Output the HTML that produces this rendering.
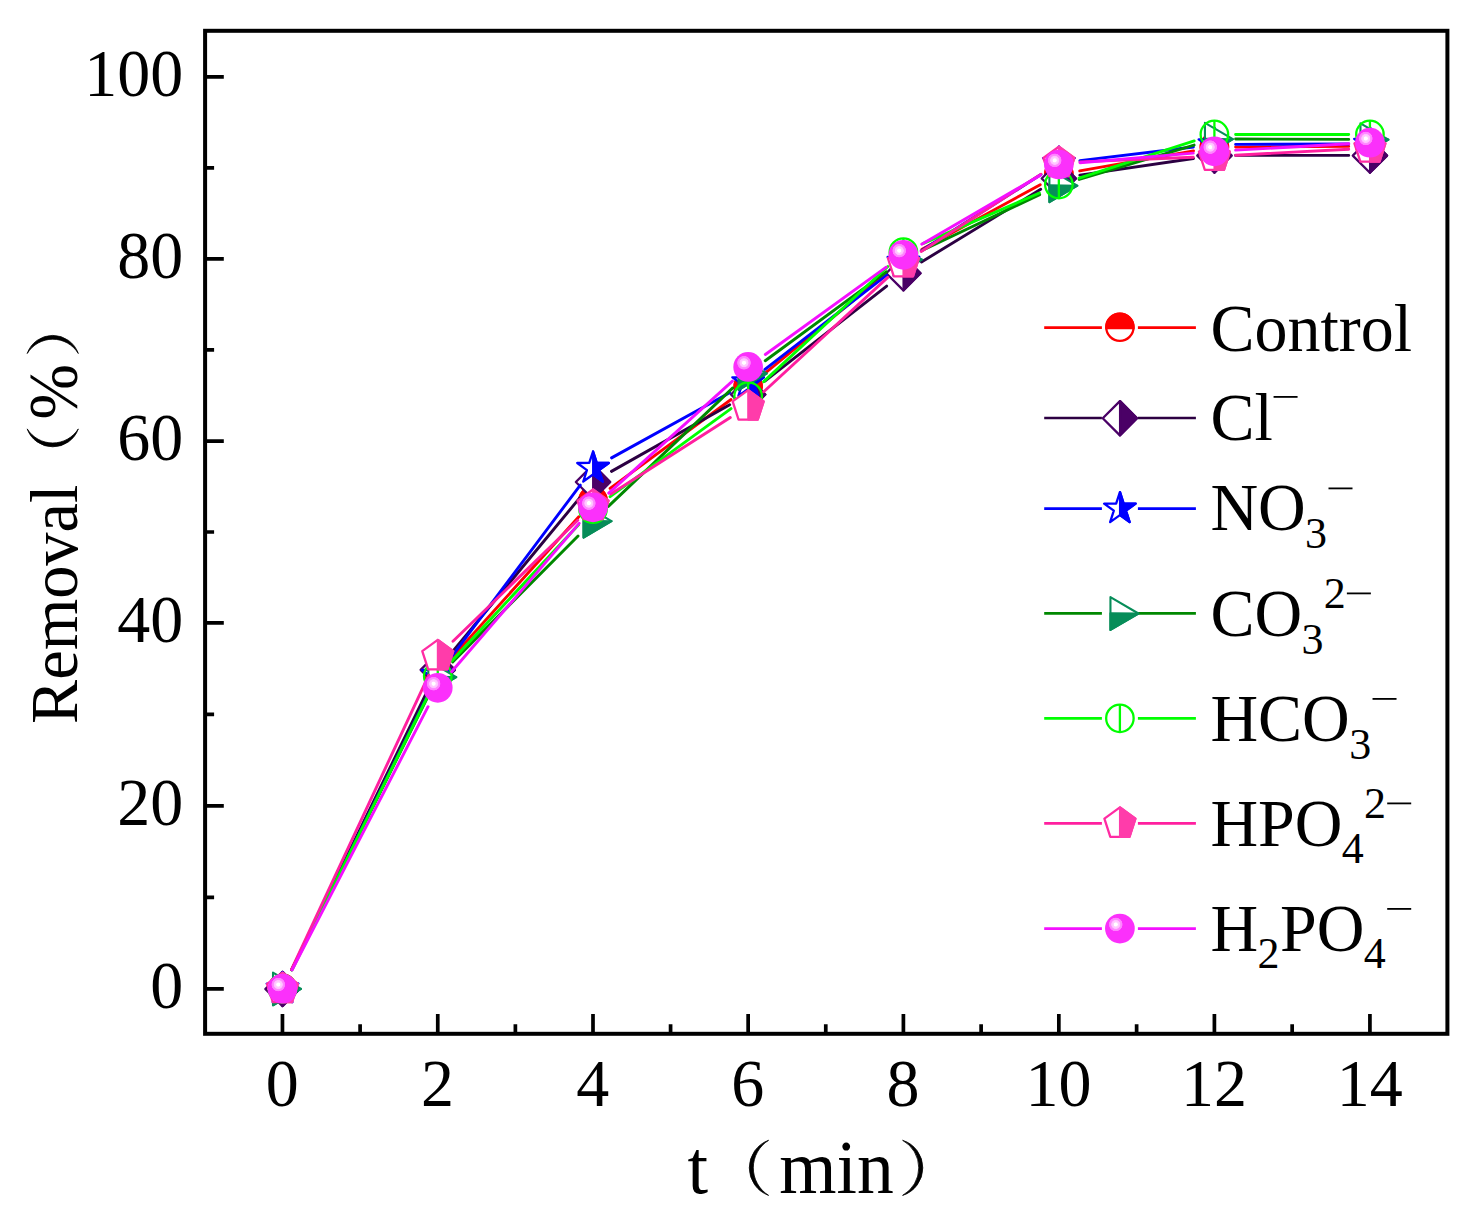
<!DOCTYPE html>
<html lang="en">
<head>
<meta charset="utf-8">
<title>Removal vs t</title>
<style>
html,body{margin:0;padding:0;background:#ffffff;}
body{width:1481px;height:1222px;overflow:hidden;font-family:"Liberation Serif",serif;}
svg{display:block;}
</style>
</head>
<body>
<svg width="1481" height="1222" viewBox="0 0 1481 1222">
<defs><radialGradient id="sph" cx="0.36" cy="0.36" r="0.64" fx="0.36" fy="0.36"><stop offset="0" stop-color="#ffffff"/><stop offset="0.09" stop-color="#ffffff"/><stop offset="0.12" stop-color="#ffd0ff"/><stop offset="0.22" stop-color="#ffc0ff"/><stop offset="0.25" stop-color="#ff8cff"/><stop offset="0.34" stop-color="#ff80ff"/><stop offset="0.37" stop-color="#fb30fb"/><stop offset="1" stop-color="#fb30fb"/></radialGradient></defs>
<rect x="0" y="0" width="1481" height="1222" fill="#ffffff"/>
<path d="M291.82,969.68L428.40,692.27M451.95,657.50L578.81,516.69M610.09,488.39L731.06,399.53M764.53,373.51L887.02,272.80M922.01,249.19L1040.23,184.70M1079.72,170.88L1193.52,150.87M1235.60,147.08L1348.72,146.41" fill="none" stroke="#ff0000" stroke-width="2.9" stroke-linecap="round"/>
<circle cx="282.46" cy="988.35" r="13.65" fill="#fff" stroke="#ff0000" stroke-width="2.3"/><path d="M268.83,989.15 A13.65,13.65 0 1,1 296.09,989.15 Z" fill="#ff0000" stroke="#ff0000" stroke-width="2.3"/>
<circle cx="437.76" cy="672.90" r="13.65" fill="#fff" stroke="#ff0000" stroke-width="2.3"/><path d="M424.13,673.70 A13.65,13.65 0 1,1 451.39,673.70 Z" fill="#ff0000" stroke="#ff0000" stroke-width="2.3"/>
<circle cx="593.00" cy="500.59" r="13.65" fill="#fff" stroke="#ff0000" stroke-width="2.3"/><path d="M579.37,501.39 A13.65,13.65 0 1,1 606.63,501.39 Z" fill="#ff0000" stroke="#ff0000" stroke-width="2.3"/>
<circle cx="748.15" cy="386.63" r="13.65" fill="#fff" stroke="#ff0000" stroke-width="2.3"/><path d="M734.52,387.43 A13.65,13.65 0 1,1 761.78,387.43 Z" fill="#ff0000" stroke="#ff0000" stroke-width="2.3"/>
<circle cx="903.40" cy="258.99" r="13.65" fill="#fff" stroke="#ff0000" stroke-width="2.3"/><path d="M889.77,259.79 A13.65,13.65 0 1,1 917.03,259.79 Z" fill="#ff0000" stroke="#ff0000" stroke-width="2.3"/>
<circle cx="1058.84" cy="174.20" r="13.65" fill="#fff" stroke="#ff0000" stroke-width="2.3"/><path d="M1045.21,175.00 A13.65,13.65 0 1,1 1072.47,175.00 Z" fill="#ff0000" stroke="#ff0000" stroke-width="2.3"/>
<circle cx="1214.40" cy="146.85" r="13.65" fill="#fff" stroke="#ff0000" stroke-width="2.3"/><path d="M1200.77,147.65 A13.65,13.65 0 1,1 1228.03,147.65 Z" fill="#ff0000" stroke="#ff0000" stroke-width="2.3"/>
<circle cx="1369.92" cy="145.94" r="13.65" fill="#fff" stroke="#ff0000" stroke-width="2.3"/><path d="M1356.29,146.74 A13.65,13.65 0 1,1 1383.55,146.74 Z" fill="#ff0000" stroke="#ff0000" stroke-width="2.3"/>
<path d="M291.74,969.64L428.48,688.67M451.27,653.26L579.49,498.14M611.46,471.38L729.69,404.69M764.86,381.22L886.69,286.06M921.50,261.98L1040.74,189.24M1079.82,175.13L1193.42,158.48M1235.60,155.41L1348.72,155.41" fill="none" stroke="#2c0042" stroke-width="2.9" stroke-linecap="round"/>
<polygon points="282.46,971.80 299.61,988.95 282.46,1006.10 265.31,988.95" fill="#fff" stroke="#4a0066" stroke-width="2.3" stroke-linejoin="round"/><polygon points="282.66,971.80 282.66,971.80 299.61,988.95 282.46,1006.10 282.66,1006.10" fill="#4a0066" stroke="#4a0066" stroke-width="2.3" stroke-linejoin="round"/>
<polygon points="437.76,652.71 454.91,669.86 437.76,687.00 420.61,669.86" fill="#fff" stroke="#4a0066" stroke-width="2.3" stroke-linejoin="round"/><polygon points="437.96,652.71 437.96,652.71 454.91,669.86 437.76,687.00 437.96,687.00" fill="#4a0066" stroke="#4a0066" stroke-width="2.3" stroke-linejoin="round"/>
<polygon points="593.00,464.89 610.15,482.04 593.00,499.19 575.85,482.04" fill="#fff" stroke="#4a0066" stroke-width="2.3" stroke-linejoin="round"/><polygon points="593.20,464.89 593.20,464.89 610.15,482.04 593.00,499.19 593.20,499.19" fill="#4a0066" stroke="#4a0066" stroke-width="2.3" stroke-linejoin="round"/>
<polygon points="748.15,377.37 765.30,394.52 748.15,411.67 731.00,394.52" fill="#fff" stroke="#4a0066" stroke-width="2.3" stroke-linejoin="round"/><polygon points="748.35,377.37 748.35,377.37 765.30,394.52 748.15,411.67 748.35,411.67" fill="#4a0066" stroke="#4a0066" stroke-width="2.3" stroke-linejoin="round"/>
<polygon points="903.40,256.12 920.55,273.27 903.40,290.42 886.25,273.27" fill="#fff" stroke="#4a0066" stroke-width="2.3" stroke-linejoin="round"/><polygon points="903.60,256.12 903.60,256.12 920.55,273.27 903.40,290.42 903.60,290.42" fill="#4a0066" stroke="#4a0066" stroke-width="2.3" stroke-linejoin="round"/>
<polygon points="1058.84,161.30 1075.99,178.45 1058.84,195.60 1041.69,178.45" fill="#fff" stroke="#4a0066" stroke-width="2.3" stroke-linejoin="round"/><polygon points="1059.04,161.30 1059.04,161.30 1075.99,178.45 1058.84,195.60 1059.04,195.60" fill="#4a0066" stroke="#4a0066" stroke-width="2.3" stroke-linejoin="round"/>
<polygon points="1214.40,138.51 1231.55,155.66 1214.40,172.81 1197.25,155.66" fill="#fff" stroke="#4a0066" stroke-width="2.3" stroke-linejoin="round"/><polygon points="1214.60,138.51 1214.60,138.51 1231.55,155.66 1214.40,172.81 1214.60,172.81" fill="#4a0066" stroke="#4a0066" stroke-width="2.3" stroke-linejoin="round"/>
<polygon points="1369.92,138.51 1387.07,155.66 1369.92,172.81 1352.77,155.66" fill="#fff" stroke="#4a0066" stroke-width="2.3" stroke-linejoin="round"/><polygon points="1370.12,138.51 1370.12,138.51 1387.07,155.66 1369.92,172.81 1370.12,172.81" fill="#4a0066" stroke="#4a0066" stroke-width="2.3" stroke-linejoin="round"/>
<path d="M291.87,969.70L428.35,694.07M450.48,658.12L580.28,485.08M611.56,457.87L729.59,392.67M764.91,369.43L886.64,275.06M921.29,250.69L1040.95,174.54M1079.89,160.63L1193.35,146.99M1235.60,144.40L1348.72,144.07" fill="none" stroke="#0000ff" stroke-width="2.9" stroke-linecap="round"/>
<polygon points="282.46,972.10 286.22,983.53 298.25,983.57 288.54,990.67 292.22,1002.13 282.46,995.09 272.70,1002.13 276.38,990.67 266.67,983.57 278.70,983.53" fill="#fff" stroke="#0000ff" stroke-width="2.3" stroke-linejoin="round"/><polygon points="282.66,972.10 286.22,983.53 298.25,983.57 288.54,990.67 292.22,1002.13 282.66,995.09" fill="#0000ff" stroke="#0000ff" stroke-width="2.3" stroke-linejoin="round"/>
<polygon points="437.76,658.48 441.52,669.90 453.55,669.95 443.84,677.05 447.52,688.50 437.76,681.47 428.00,688.50 431.68,677.05 421.97,669.95 434.00,669.90" fill="#fff" stroke="#0000ff" stroke-width="2.3" stroke-linejoin="round"/><polygon points="437.96,658.48 441.52,669.90 453.55,669.95 443.84,677.05 447.52,688.50 437.96,681.47" fill="#0000ff" stroke="#0000ff" stroke-width="2.3" stroke-linejoin="round"/>
<polygon points="593.00,451.52 596.76,462.95 608.79,462.99 599.08,470.09 602.76,481.55 593.00,474.51 583.24,481.55 586.92,470.09 577.21,462.99 589.24,462.95" fill="#fff" stroke="#0000ff" stroke-width="2.3" stroke-linejoin="round"/><polygon points="593.20,451.52 596.76,462.95 608.79,462.99 599.08,470.09 602.76,481.55 593.20,474.51" fill="#0000ff" stroke="#0000ff" stroke-width="2.3" stroke-linejoin="round"/>
<polygon points="748.15,365.82 751.91,377.25 763.94,377.29 754.23,384.39 757.91,395.85 748.15,388.81 738.39,395.85 742.07,384.39 732.36,377.29 744.39,377.25" fill="#fff" stroke="#0000ff" stroke-width="2.3" stroke-linejoin="round"/><polygon points="748.35,365.82 751.91,377.25 763.94,377.29 754.23,384.39 757.91,395.85 748.35,388.81" fill="#0000ff" stroke="#0000ff" stroke-width="2.3" stroke-linejoin="round"/>
<polygon points="903.40,245.48 907.16,256.90 919.19,256.95 909.48,264.05 913.16,275.50 903.40,268.47 893.64,275.50 897.32,264.05 887.61,256.95 899.64,256.90" fill="#fff" stroke="#0000ff" stroke-width="2.3" stroke-linejoin="round"/><polygon points="903.60,245.48 907.16,256.90 919.19,256.95 909.48,264.05 913.16,275.50 903.60,268.47" fill="#0000ff" stroke="#0000ff" stroke-width="2.3" stroke-linejoin="round"/>
<polygon points="1058.84,146.56 1062.60,157.99 1074.63,158.03 1064.92,165.13 1068.60,176.59 1058.84,169.55 1049.08,176.59 1052.76,165.13 1043.05,158.03 1055.08,157.99" fill="#fff" stroke="#0000ff" stroke-width="2.3" stroke-linejoin="round"/><polygon points="1059.04,146.56 1062.60,157.99 1074.63,158.03 1064.92,165.13 1068.60,176.59 1059.04,169.55" fill="#0000ff" stroke="#0000ff" stroke-width="2.3" stroke-linejoin="round"/>
<polygon points="1214.40,127.87 1218.16,139.30 1230.19,139.34 1220.48,146.44 1224.16,157.90 1214.40,150.86 1204.64,157.90 1208.32,146.44 1198.61,139.34 1210.64,139.30" fill="#fff" stroke="#0000ff" stroke-width="2.3" stroke-linejoin="round"/><polygon points="1214.60,127.87 1218.16,139.30 1230.19,139.34 1220.48,146.44 1224.16,157.90 1214.60,150.86" fill="#0000ff" stroke="#0000ff" stroke-width="2.3" stroke-linejoin="round"/>
<polygon points="1369.92,127.41 1373.68,138.84 1385.71,138.88 1376.00,145.98 1379.68,157.44 1369.92,150.40 1360.16,157.44 1363.84,145.98 1354.13,138.88 1366.16,138.84" fill="#fff" stroke="#0000ff" stroke-width="2.3" stroke-linejoin="round"/><polygon points="1370.12,127.41 1373.68,138.84 1385.71,138.88 1376.00,145.98 1379.68,157.44 1370.12,150.40" fill="#0000ff" stroke="#0000ff" stroke-width="2.3" stroke-linejoin="round"/>
<path d="M291.91,969.72L428.31,695.88M452.72,661.88L578.04,536.02M608.36,506.38L732.79,387.92M765.24,360.76L886.31,271.88M922.55,250.24L1039.69,194.59M1079.15,179.42L1194.09,145.07M1235.60,139.06L1348.72,139.39" fill="none" stroke="#008800" stroke-width="2.9" stroke-linecap="round"/>
<polygon points="273.01,972.55 300.96,988.90 273.01,1005.25" fill="#fff" stroke="#078d59" stroke-width="2.1" stroke-linejoin="round"/><polygon points="273.01,988.60 300.96,988.90 273.01,1005.25" fill="#078d59" stroke="#078d59" stroke-width="2.1" stroke-linejoin="round"/>
<polygon points="428.31,660.75 456.26,677.10 428.31,693.45" fill="#fff" stroke="#078d59" stroke-width="2.1" stroke-linejoin="round"/><polygon points="428.31,676.80 456.26,677.10 428.31,693.45" fill="#078d59" stroke="#078d59" stroke-width="2.1" stroke-linejoin="round"/>
<polygon points="583.55,504.85 611.50,521.20 583.55,537.55" fill="#fff" stroke="#078d59" stroke-width="2.1" stroke-linejoin="round"/><polygon points="583.55,520.90 611.50,521.20 583.55,537.55" fill="#078d59" stroke="#078d59" stroke-width="2.1" stroke-linejoin="round"/>
<polygon points="738.70,357.15 766.65,373.50 738.70,389.85" fill="#fff" stroke="#078d59" stroke-width="2.1" stroke-linejoin="round"/><polygon points="738.70,373.20 766.65,373.50 738.70,389.85" fill="#078d59" stroke="#078d59" stroke-width="2.1" stroke-linejoin="round"/>
<polygon points="893.95,243.19 921.90,259.54 893.95,275.89" fill="#fff" stroke="#078d59" stroke-width="2.1" stroke-linejoin="round"/><polygon points="893.95,259.24 921.90,259.54 893.95,275.89" fill="#078d59" stroke="#078d59" stroke-width="2.1" stroke-linejoin="round"/>
<polygon points="1049.39,169.34 1077.34,185.69 1049.39,202.04" fill="#fff" stroke="#078d59" stroke-width="2.1" stroke-linejoin="round"/><polygon points="1049.39,185.39 1077.34,185.69 1049.39,202.04" fill="#078d59" stroke="#078d59" stroke-width="2.1" stroke-linejoin="round"/>
<polygon points="1204.95,122.85 1232.90,139.20 1204.95,155.54" fill="#fff" stroke="#078d59" stroke-width="2.1" stroke-linejoin="round"/><polygon points="1204.95,138.90 1232.90,139.20 1204.95,155.54" fill="#078d59" stroke="#078d59" stroke-width="2.1" stroke-linejoin="round"/>
<polygon points="1360.47,123.30 1388.42,139.65 1360.47,156.00" fill="#fff" stroke="#078d59" stroke-width="2.1" stroke-linejoin="round"/><polygon points="1360.47,139.35 1388.42,139.65 1360.47,156.00" fill="#078d59" stroke="#078d59" stroke-width="2.1" stroke-linejoin="round"/>
<path d="M291.89,969.71L428.33,694.97M452.20,660.47L578.56,524.67M610.13,496.66L731.02,408.58M763.69,381.68L887.86,266.47M922.85,243.61L1039.39,193.02M1079.02,178.08L1194.22,140.94M1235.60,134.44L1348.72,134.44" fill="none" stroke="#00ff00" stroke-width="2.9" stroke-linecap="round"/>
<circle cx="282.46" cy="988.70" r="13.75" fill="none" stroke="#00ff00" stroke-width="2.3"/><line x1="282.46" y1="974.95" x2="282.46" y2="1002.45" stroke="#00ff00" stroke-width="2.3"/>
<circle cx="437.76" cy="675.99" r="13.75" fill="none" stroke="#00ff00" stroke-width="2.3"/><line x1="437.76" y1="662.24" x2="437.76" y2="689.74" stroke="#00ff00" stroke-width="2.3"/>
<circle cx="593.00" cy="509.15" r="13.75" fill="none" stroke="#00ff00" stroke-width="2.3"/><line x1="593.00" y1="495.40" x2="593.00" y2="522.90" stroke="#00ff00" stroke-width="2.3"/>
<circle cx="748.15" cy="396.10" r="13.75" fill="none" stroke="#00ff00" stroke-width="2.3"/><line x1="748.15" y1="382.35" x2="748.15" y2="409.85" stroke="#00ff00" stroke-width="2.3"/>
<circle cx="903.40" cy="252.05" r="13.75" fill="none" stroke="#00ff00" stroke-width="2.3"/><line x1="903.40" y1="238.30" x2="903.40" y2="265.80" stroke="#00ff00" stroke-width="2.3"/>
<circle cx="1058.84" cy="184.58" r="13.75" fill="none" stroke="#00ff00" stroke-width="2.3"/><line x1="1058.84" y1="170.83" x2="1058.84" y2="198.33" stroke="#00ff00" stroke-width="2.3"/>
<circle cx="1214.40" cy="134.44" r="13.75" fill="none" stroke="#00ff00" stroke-width="2.3"/><line x1="1214.40" y1="120.69" x2="1214.40" y2="148.19" stroke="#00ff00" stroke-width="2.3"/>
<circle cx="1369.92" cy="134.44" r="13.75" fill="none" stroke="#00ff00" stroke-width="2.3"/><line x1="1369.92" y1="120.69" x2="1369.92" y2="148.19" stroke="#00ff00" stroke-width="2.3"/>
<path d="M291.43,969.49L428.79,675.14M452.98,641.18L577.78,520.25M610.85,494.06L730.30,417.56M763.74,391.75L887.81,277.36M921.21,251.49L1041.03,174.19M1080.02,161.83L1193.22,157.19M1235.57,155.20L1348.75,149.23" fill="none" stroke="#ff1f9f" stroke-width="2.9" stroke-linecap="round"/>
<polygon points="282.46,972.70 297.96,983.96 292.04,1002.19 272.88,1002.19 266.96,983.96" fill="#fff" stroke="#ff2ca3" stroke-width="2.3" stroke-linejoin="round"/><polygon points="282.66,972.70 297.96,983.96 292.04,1002.19 282.66,1002.19" fill="#ff3caa" stroke="#ff3caa" stroke-width="2.3" stroke-linejoin="round"/>
<polygon points="437.76,639.93 453.26,651.19 447.34,669.42 428.18,669.42 422.26,651.19" fill="#fff" stroke="#ff2ca3" stroke-width="2.3" stroke-linejoin="round"/><polygon points="437.96,639.93 453.26,651.19 447.34,669.42 437.96,669.42" fill="#ff3caa" stroke="#ff3caa" stroke-width="2.3" stroke-linejoin="round"/>
<polygon points="593.00,489.50 608.50,500.76 602.58,518.99 583.42,518.99 577.50,500.76" fill="#fff" stroke="#ff2ca3" stroke-width="2.3" stroke-linejoin="round"/><polygon points="593.20,489.50 608.50,500.76 602.58,518.99 593.20,518.99" fill="#ff3caa" stroke="#ff3caa" stroke-width="2.3" stroke-linejoin="round"/>
<polygon points="748.15,390.12 763.65,401.39 757.73,419.61 738.57,419.61 732.65,401.39" fill="#fff" stroke="#ff2ca3" stroke-width="2.3" stroke-linejoin="round"/><polygon points="748.35,390.12 763.65,401.39 757.73,419.61 748.35,419.61" fill="#ff3caa" stroke="#ff3caa" stroke-width="2.3" stroke-linejoin="round"/>
<polygon points="903.40,246.99 918.90,258.25 912.98,276.47 893.82,276.47 887.90,258.25" fill="#fff" stroke="#ff2ca3" stroke-width="2.3" stroke-linejoin="round"/><polygon points="903.60,246.99 918.90,258.25 912.98,276.47 903.60,276.47" fill="#ff3caa" stroke="#ff3caa" stroke-width="2.3" stroke-linejoin="round"/>
<polygon points="1058.84,146.70 1074.34,157.96 1068.42,176.19 1049.26,176.19 1043.34,157.96" fill="#fff" stroke="#ff2ca3" stroke-width="2.3" stroke-linejoin="round"/><polygon points="1059.04,146.70 1074.34,157.96 1068.42,176.19 1059.04,176.19" fill="#ff3caa" stroke="#ff3caa" stroke-width="2.3" stroke-linejoin="round"/>
<polygon points="1214.40,140.32 1229.90,151.58 1223.98,169.80 1204.82,169.80 1198.90,151.58" fill="#fff" stroke="#ff2ca3" stroke-width="2.3" stroke-linejoin="round"/><polygon points="1214.60,140.32 1229.90,151.58 1223.98,169.80 1214.60,169.80" fill="#ff3caa" stroke="#ff3caa" stroke-width="2.3" stroke-linejoin="round"/>
<polygon points="1369.92,132.11 1385.42,143.38 1379.50,161.60 1360.34,161.60 1354.42,143.38" fill="#fff" stroke="#ff2ca3" stroke-width="2.3" stroke-linejoin="round"/><polygon points="1370.12,132.11 1385.42,143.38 1379.50,161.60 1370.12,161.60" fill="#ff3caa" stroke="#ff3caa" stroke-width="2.3" stroke-linejoin="round"/>
<path d="M292.18,969.86L428.04,706.68M451.58,671.77L579.18,523.40M608.72,493.10L732.43,381.15M765.34,354.51L886.21,267.19M921.73,244.14L1040.51,175.17M1079.96,162.73L1193.28,153.10M1235.57,150.12L1348.75,143.82" fill="none" stroke="#f410ff" stroke-width="2.9" stroke-linecap="round"/>
<circle cx="282.46" cy="988.70" r="14.85" fill="url(#sph)"/>
<circle cx="437.76" cy="687.84" r="14.85" fill="url(#sph)"/>
<circle cx="593.00" cy="507.32" r="14.85" fill="url(#sph)"/>
<circle cx="748.15" cy="366.92" r="14.85" fill="url(#sph)"/>
<circle cx="903.40" cy="254.78" r="14.85" fill="url(#sph)"/>
<circle cx="1058.84" cy="164.52" r="14.85" fill="url(#sph)"/>
<circle cx="1214.40" cy="151.30" r="14.85" fill="url(#sph)"/>
<circle cx="1369.92" cy="142.64" r="14.85" fill="url(#sph)"/>
<path d="M205.10,988.81H223.80M205.10,897.37H214.10M205.10,805.92H223.80M205.10,714.43H214.10M205.10,622.95H223.80M205.10,532.00H214.10M205.10,441.06H223.80M205.10,349.97H214.10M205.10,258.87H223.80M205.10,167.83H214.10M205.10,76.79H223.80M282.46,1033.80V1014.00M360.11,1033.80V1024.20M437.76,1033.80V1014.00M515.38,1033.80V1024.20M593.00,1033.80V1014.00M670.58,1033.80V1024.20M748.15,1033.80V1014.00M825.77,1033.80V1024.20M903.40,1033.80V1014.00M981.12,1033.80V1024.20M1058.84,1033.80V1014.00M1136.62,1033.80V1024.20M1214.40,1033.80V1014.00M1292.16,1033.80V1024.20M1369.92,1033.80V1014.00" fill="none" stroke="#000" stroke-width="3.7"/>
<rect x="205.10" y="30.80" width="1242.30" height="1003.00" fill="none" stroke="#000" stroke-width="4.0"/>
<text transform="translate(183.3,1007.81) scale(1,1.035)" font-family="Liberation Serif, serif" font-size="66" text-anchor="end" fill="#000">0</text>
<text transform="translate(183.3,824.92) scale(1,1.035)" font-family="Liberation Serif, serif" font-size="66" text-anchor="end" fill="#000">20</text>
<text transform="translate(183.3,641.95) scale(1,1.035)" font-family="Liberation Serif, serif" font-size="66" text-anchor="end" fill="#000">40</text>
<text transform="translate(183.3,460.06) scale(1,1.035)" font-family="Liberation Serif, serif" font-size="66" text-anchor="end" fill="#000">60</text>
<text transform="translate(183.3,277.87) scale(1,1.035)" font-family="Liberation Serif, serif" font-size="66" text-anchor="end" fill="#000">80</text>
<text transform="translate(183.3,95.79) scale(1,1.035)" font-family="Liberation Serif, serif" font-size="66" text-anchor="end" fill="#000">100</text>
<text transform="translate(282.16,1106.0) scale(1,1.03)" font-family="Liberation Serif, serif" font-size="66" text-anchor="middle" fill="#000">0</text>
<text transform="translate(437.46,1106.0) scale(1,1.03)" font-family="Liberation Serif, serif" font-size="66" text-anchor="middle" fill="#000">2</text>
<text transform="translate(592.70,1106.0) scale(1,1.03)" font-family="Liberation Serif, serif" font-size="66" text-anchor="middle" fill="#000">4</text>
<text transform="translate(747.85,1106.0) scale(1,1.03)" font-family="Liberation Serif, serif" font-size="66" text-anchor="middle" fill="#000">6</text>
<text transform="translate(903.10,1106.0) scale(1,1.03)" font-family="Liberation Serif, serif" font-size="66" text-anchor="middle" fill="#000">8</text>
<text transform="translate(1058.54,1106.0) scale(1,1.03)" font-family="Liberation Serif, serif" font-size="66" text-anchor="middle" fill="#000">10</text>
<text transform="translate(1214.10,1106.0) scale(1,1.03)" font-family="Liberation Serif, serif" font-size="66" text-anchor="middle" fill="#000">12</text>
<text transform="translate(1369.62,1106.0) scale(1,1.03)" font-family="Liberation Serif, serif" font-size="66" text-anchor="middle" fill="#000">14</text>
<text transform="translate(687.5,1193.3) scale(1,1.02)" font-family="Liberation Serif, serif" font-size="74" fill="#000">t</text>
<path d="M768.60,1140.30 A29.31,29.31 0 0,0 768.60,1195.40 A32.45,32.45 0 0,1 768.60,1140.30 Z" fill="#000" stroke="#000" stroke-width="0.8" stroke-linejoin="round"/>
<text transform="translate(779.3,1193.3) scale(0.995,1.02)" font-family="Liberation Serif, serif" font-size="74" fill="#000">min</text>
<path d="M902.60,1140.30 A28.89,28.89 0 0,1 902.60,1195.40 A31.53,31.53 0 0,0 902.60,1140.30 Z" fill="#000" stroke="#000" stroke-width="0.8" stroke-linejoin="round"/>
<g transform="translate(76.9,724.0) rotate(-90)">
<text transform="scale(0.997,1.015)" x="0" y="0" font-family="Liberation Serif, serif" font-size="66.5" fill="#000">Removal</text>
<path d="M295.10,-49.70 A27.18,27.18 0 0,0 295.10,1.40 A30.20,30.20 0 0,1 295.10,-49.70 Z" fill="#000" stroke="#000" stroke-width="0.8" stroke-linejoin="round"/>
<text transform="translate(304.4,0) scale(1,1.04)" font-family="Liberation Serif, serif" font-size="66.5" fill="#000">%</text>
<path d="M370.50,-49.70 A27.08,27.08 0 0,1 370.50,1.40 A29.98,29.98 0 0,0 370.50,-49.70 Z" fill="#000" stroke="#000" stroke-width="0.8" stroke-linejoin="round"/>
</g>
<path d="M1044.20,327.60H1101.90M1137.90,327.60H1195.90" fill="none" stroke="#ff0000" stroke-width="2.7"/>
<circle cx="1119.90" cy="327.25" r="13.65" fill="#fff" stroke="#ff0000" stroke-width="2.3"/><path d="M1106.27,328.05 A13.65,13.65 0 1,1 1133.53,328.05 Z" fill="#ff0000" stroke="#ff0000" stroke-width="2.3"/>
<text transform="translate(1210.40,350.60) scale(1,1.015)" font-family="Liberation Serif, serif" font-size="66" fill="#000">Control</text>
<path d="M1044.20,418.00H1101.90M1137.90,418.00H1195.90" fill="none" stroke="#2c0042" stroke-width="2.7"/>
<polygon points="1119.90,401.10 1137.05,418.25 1119.90,435.40 1102.75,418.25" fill="#fff" stroke="#4a0066" stroke-width="2.3" stroke-linejoin="round"/><polygon points="1120.10,401.10 1120.10,401.10 1137.05,418.25 1119.90,435.40 1120.10,435.40" fill="#4a0066" stroke="#4a0066" stroke-width="2.3" stroke-linejoin="round"/>
<text transform="translate(1210.40,440.00) scale(1,1.03)" font-family="Liberation Serif, serif" font-size="66" fill="#000">Cl</text>
<rect x="1273.57" y="396.00" width="24" height="1.8" fill="#000"/>
<path d="M1044.20,508.70H1101.90M1137.90,508.70H1195.90" fill="none" stroke="#0000ff" stroke-width="2.7"/>
<polygon points="1119.90,492.10 1123.66,503.53 1135.69,503.57 1125.98,510.67 1129.66,522.13 1119.90,515.09 1110.14,522.13 1113.82,510.67 1104.11,503.57 1116.14,503.53" fill="#fff" stroke="#0000ff" stroke-width="2.3" stroke-linejoin="round"/><polygon points="1120.10,492.10 1123.66,503.53 1135.69,503.57 1125.98,510.67 1129.66,522.13 1120.10,515.09" fill="#0000ff" stroke="#0000ff" stroke-width="2.3" stroke-linejoin="round"/>
<text transform="translate(1210.40,530.20) scale(1,1.03)" font-family="Liberation Serif, serif" font-size="66" fill="#000">NO</text>
<text transform="translate(1305.10,548.30) scale(1,1.0)" font-family="Liberation Serif, serif" font-size="44" fill="#000">3</text>
<rect x="1328.50" y="487.50" width="24" height="1.8" fill="#000"/>
<path d="M1044.20,613.30H1101.90M1137.90,613.30H1195.90" fill="none" stroke="#008800" stroke-width="2.7"/>
<polygon points="1110.45,597.15 1138.40,613.50 1110.45,629.85" fill="#fff" stroke="#078d59" stroke-width="2.1" stroke-linejoin="round"/><polygon points="1110.45,613.20 1138.40,613.50 1110.45,629.85" fill="#078d59" stroke="#078d59" stroke-width="2.1" stroke-linejoin="round"/>
<text transform="translate(1210.40,636.30) scale(1,1.03)" font-family="Liberation Serif, serif" font-size="66" fill="#000">CO</text>
<text transform="translate(1301.47,654.00) scale(1,1.0)" font-family="Liberation Serif, serif" font-size="44" fill="#000">3</text>
<text transform="translate(1323.77,607.80) scale(1,1.0)" font-family="Liberation Serif, serif" font-size="44" fill="#000">2</text>
<rect x="1346.87" y="592.50" width="24" height="1.8" fill="#000"/>
<path d="M1044.20,718.30H1101.90M1137.90,718.30H1195.90" fill="none" stroke="#00ff00" stroke-width="2.7"/>
<circle cx="1119.90" cy="718.30" r="13.75" fill="none" stroke="#00ff00" stroke-width="2.3"/><line x1="1119.90" y1="704.55" x2="1119.90" y2="732.05" stroke="#00ff00" stroke-width="2.3"/>
<text transform="translate(1210.40,740.60) scale(1,1.03)" font-family="Liberation Serif, serif" font-size="66" fill="#000">HCO</text>
<text transform="translate(1349.13,758.70) scale(1,1.0)" font-family="Liberation Serif, serif" font-size="44" fill="#000">3</text>
<rect x="1372.53" y="698.00" width="24" height="1.8" fill="#000"/>
<path d="M1044.20,823.40H1101.90M1137.90,823.40H1195.90" fill="none" stroke="#ff1f9f" stroke-width="2.7"/>
<polygon points="1119.90,807.40 1135.40,818.66 1129.48,836.89 1110.32,836.89 1104.40,818.66" fill="#fff" stroke="#ff2ca3" stroke-width="2.3" stroke-linejoin="round"/><polygon points="1120.10,807.40 1135.40,818.66 1129.48,836.89 1120.10,836.89" fill="#ff3caa" stroke="#ff3caa" stroke-width="2.3" stroke-linejoin="round"/>
<text transform="translate(1210.40,845.70) scale(1,1.03)" font-family="Liberation Serif, serif" font-size="66" fill="#000">HPO</text>
<text transform="translate(1341.80,863.20) scale(1,1.0)" font-family="Liberation Serif, serif" font-size="44" fill="#000">4</text>
<text transform="translate(1364.10,817.80) scale(1,1.0)" font-family="Liberation Serif, serif" font-size="44" fill="#000">2</text>
<rect x="1387.20" y="802.50" width="24" height="1.8" fill="#000"/>
<path d="M1044.20,928.60H1101.90M1137.90,928.60H1195.90" fill="none" stroke="#f410ff" stroke-width="2.7"/>
<circle cx="1119.90" cy="928.60" r="14.85" fill="url(#sph)"/>
<text transform="translate(1210.40,950.60) scale(1,1.03)" font-family="Liberation Serif, serif" font-size="66" fill="#000">H</text>
<text transform="translate(1257.45,967.80) scale(1,1.0)" font-family="Liberation Serif, serif" font-size="44" fill="#000">2</text>
<text transform="translate(1280.05,950.60) scale(1,1.03)" font-family="Liberation Serif, serif" font-size="66" fill="#000">PO</text>
<text transform="translate(1363.80,967.80) scale(1,1.0)" font-family="Liberation Serif, serif" font-size="44" fill="#000">4</text>
<rect x="1387.20" y="908.00" width="24" height="1.8" fill="#000"/>
</svg>
</body>
</html>
